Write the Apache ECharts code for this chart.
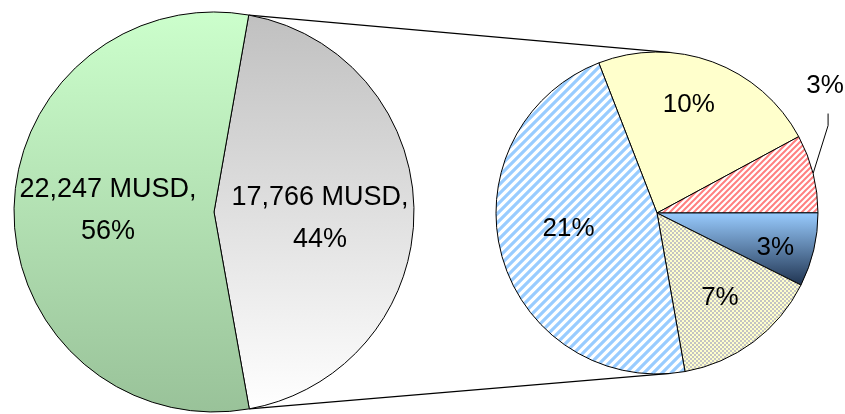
<!DOCTYPE html>
<html><head><meta charset="utf-8">
<script src="https://cdn.jsdelivr.net/npm/echarts@6/dist/echarts.min.js"></script>
<style>html,body{margin:0;padding:0;background:#fff}#c{width:845px;height:414px}</style>
</head><body><div id="c"></div>
<script>
// ---- data (MUSD) ----
const mainCategories = ['Split segment', 'Remaining segment'];
const mainValues = [17766, 22247];
const subCategories = ['Part 1', 'Part 2', 'Part 3', 'Part 4', 'Part 5'];
const subValues = [4090, 1395, 1315, 2635, 8331];

const total = mainValues.reduce((a, b) => a + b, 0);
const FONT = "'Liberation Sans', Arial, sans-serif";

// ---- layout ----
const L = { cx: 214, cy: 212, r: 200, start: 80 };
const R = { cx: 657, cy: 213, r: 161, start: 111.2 };

function stripes(p, w, fg) {
  const c = document.createElement('canvas'); c.width = p; c.height = p;
  const x = c.getContext('2d');
  x.fillStyle = '#fff'; x.fillRect(0, 0, p, p);
  x.strokeStyle = fg; x.lineWidth = w;
  x.beginPath();
  x.moveTo(0, p); x.lineTo(p, 0);
  x.moveTo(-p / 2, p / 2); x.lineTo(p / 2, -p / 2);
  x.moveTo(p / 2, 3 * p / 2); x.lineTo(3 * p / 2, p / 2);
  x.stroke();
  return { image: c, repeat: 'repeat' };
}
function checker(s, a, b) {
  const c = document.createElement('canvas'); c.width = 2 * s; c.height = 2 * s;
  const x = c.getContext('2d');
  x.fillStyle = a; x.fillRect(0, 0, 2 * s, 2 * s);
  x.fillStyle = b; x.fillRect(0, 0, s, s); x.fillRect(s, s, s, s);
  return { image: c, repeat: 'repeat' };
}
function vgrad(c0, c1) {
  return { type: 'linear', x: 0, y: 0, x2: 0, y2: 1, colorStops: [{ offset: 0, color: c0 }, { offset: 1, color: c1 }] };
}

const mainStyles = [
  { color: vgrad('#C0C0C0', '#FFFFFF'), offset: [3, 7] },
  { color: vgrad('#CCFFCC', '#99C299'), offset: [-3, -2] }
];
const subStyles = [
  { color: '#FFFFCC', offset: [3, -30] },
  { color: stripes(6, 2, '#FF8080'), outside: true },
  { color: vgrad('#99CCFF', '#1F3350'), offset: [37, 16] },
  { color: checker(2, '#FFFFCC', '#C4C4C4'), offset: [13, 18] },
  { color: stripes(9, 3.2, '#99CCFF'), offset: [-8, -7] }
];

// ---- connector lines (tangents from split slice edges to the sub pie) ----
const gAngle = mainValues[0] / total * 360;
function edgePt(deg) {
  const t = deg * Math.PI / 180;
  return [L.cx + L.r * Math.cos(t), L.cy - L.r * Math.sin(t)];
}
function tangent(P, upper) {
  const dx = P[0] - R.cx, dy = P[1] - R.cy;
  const d = Math.hypot(dx, dy);
  const base = Math.atan2(dy, dx);
  const a = Math.acos(R.r / d);
  const t = upper ? base + a : base - a;
  return [R.cx + R.r * Math.cos(t), R.cy + R.r * Math.sin(t)];
}
const pTop = edgePt(L.start), pBot = edgePt(L.start - gAngle);
const tTop = tangent(pTop, true), tBot = tangent(pBot, false);

const chart = echarts.init(document.getElementById('c'), null, { renderer: 'canvas' });
chart.setOption({
  animation: false,
  backgroundColor: '#fff',
  graphic: [
    { type: 'line', z: 0, shape: { x1: pTop[0], y1: pTop[1], x2: tTop[0], y2: tTop[1] }, style: { stroke: '#000', lineWidth: 1.2 } },
    { type: 'line', z: 0, shape: { x1: pBot[0], y1: pBot[1], x2: tBot[0], y2: tBot[1] }, style: { stroke: '#000', lineWidth: 1.2 } }
  ],
  series: [
    {
      type: 'pie', center: [L.cx, L.cy], radius: [0, L.r], startAngle: L.start,
      avoidLabelOverlap: false, emphasis: { disabled: true }, silent: true,
      itemStyle: { borderColor: '#000', borderWidth: 1 },
      label: {
        position: 'inside', color: '#000', fontFamily: FONT, fontSize: 27, lineHeight: 42,
        formatter: p => p.value.toLocaleString('en-US') + ' MUSD,\n' + Math.round(p.value / total * 100) + '%'
      },
      data: mainValues.map((v, i) => ({
        name: mainCategories[i], value: v,
        itemStyle: { color: mainStyles[i].color },
        label: { offset: mainStyles[i].offset }
      }))
    },
    {
      type: 'pie', center: [R.cx, R.cy], radius: [0, R.r], startAngle: R.start,
      avoidLabelOverlap: false, emphasis: { disabled: true }, silent: true,
      itemStyle: { borderColor: '#000', borderWidth: 1 },
      label: {
        position: 'inside', color: '#000', fontFamily: FONT, fontSize: 26,
        formatter: p => Math.round(p.value / total * 100) + '%'
      },
      labelLine: { show: false },
      labelLayout: function (p) {
        if (!subStyles[p.dataIndex].outside) return {};
        const a = (p.labelLinePoints && p.labelLinePoints[0]) ? p.labelLinePoints[0] : [813, 174];
        return {
          x: a[0] + 12, y: a[1] - 88, align: 'center', verticalAlign: 'middle',
          labelLinePoints: [[a[0], a[1]], [a[0] + 15, a[1] - 48], [a[0] + 15, a[1] - 60]]
        };
      },
      data: subValues.map((v, i) => {
        const s = subStyles[i];
        const d = { name: subCategories[i], value: v, itemStyle: { color: s.color } };
        if (s.outside) {
          d.label = { position: 'outside' };
          d.labelLine = { show: true, length: 10, length2: 0, lineStyle: { color: '#000', width: 1 } };
        } else {
          d.label = { offset: s.offset };
        }
        return d;
      })
    }
  ]
});
</script>
</body></html>
